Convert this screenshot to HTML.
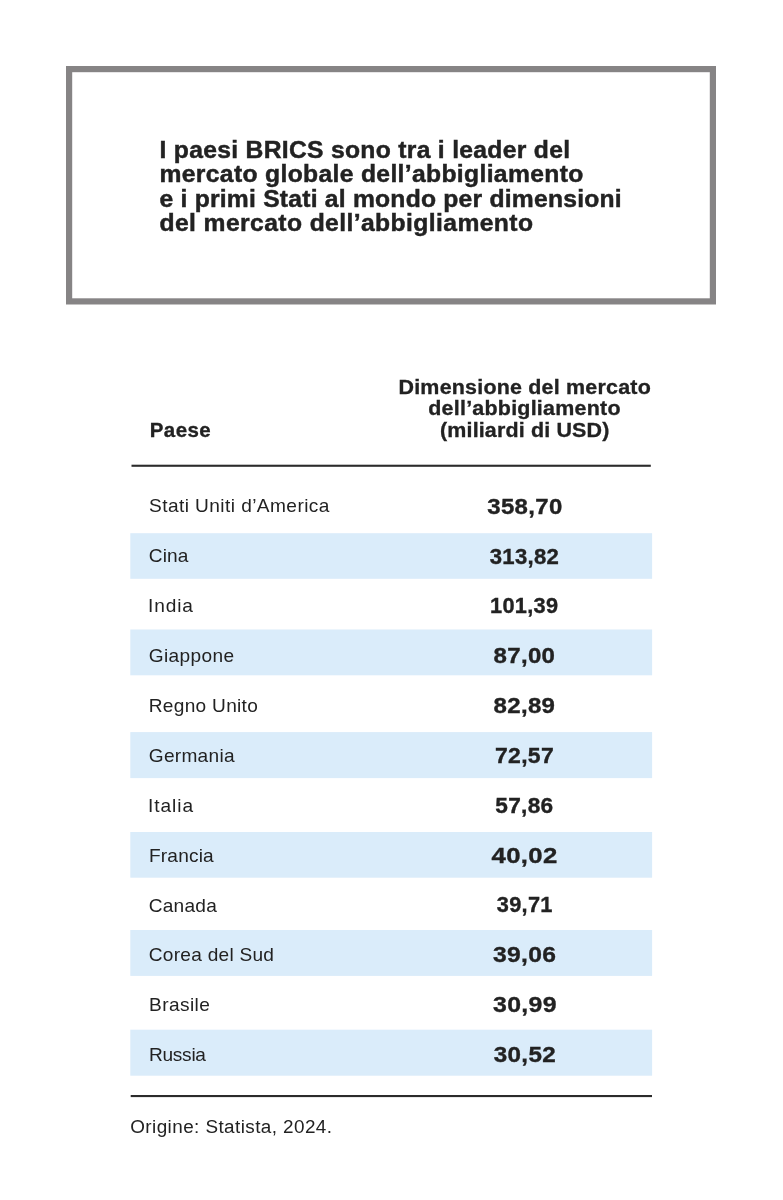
<!DOCTYPE html>
<html lang="it">
<head>
<meta charset="utf-8">
<title>Mercato dell’abbigliamento – paesi BRICS</title>
<style>
html,body{margin:0;padding:0;background:#fff}
body{width:783px;height:1200px;position:relative;overflow:hidden;font-family:"Liberation Sans",Arial,sans-serif;color:#222}
svg.bg{position:absolute;left:0;top:0;display:block}
.t{position:absolute;margin:0;padding:0;white-space:nowrap;line-height:1;font-weight:normal;color:#222;transform-origin:0 0}
.b{font-weight:bold}
.w{margin:0;padding:0;position:static;font:inherit}

</style>
</head>
<body>
<svg class="bg" width="783" height="1200" viewBox="0 0 783 1200" aria-hidden="true">
<rect x="69.1" y="69.1" width="643.8" height="232.3" fill="none" stroke="#868485" stroke-width="6.2"/>
<rect x="130.3" y="533.2" width="521.8" height="45.6" fill="#daecfa"/>
<rect x="130.3" y="629.5" width="521.8" height="45.8" fill="#daecfa"/>
<rect x="130.3" y="732.1" width="521.8" height="46.0" fill="#daecfa"/>
<rect x="130.3" y="832.0" width="521.8" height="45.7" fill="#daecfa"/>
<rect x="130.3" y="930.0" width="521.8" height="45.9" fill="#daecfa"/>
<rect x="130.3" y="1029.7" width="521.8" height="46.0" fill="#daecfa"/>
<rect x="131.5" y="464.7" width="519.3" height="2.1" fill="#2b2b2b"/>
<rect x="130.7" y="1095" width="521.3" height="2.1" fill="#2b2b2b"/>
</svg>
<h1 class="w">
<span id="t1" class="t b" style="left:159px;top:137px;font-size:23.5px;line-height:26px;letter-spacing:0.284px;transform:translateX(0.50px) scaleX(1.0500);-webkit-text-stroke:0.45px #222">I paesi BRICS sono tra i leader del</span>
<span id="t2" class="t b" style="left:159px;top:161px;font-size:23.5px;line-height:26px;letter-spacing:0.319px;transform:translateX(0.50px) scaleX(1.0500);-webkit-text-stroke:0.45px #222">mercato globale dell’abbigliamento</span>
<span id="t3" class="t b" style="left:159px;top:186px;font-size:23.5px;line-height:26px;letter-spacing:0.209px;transform:translateX(0.50px) scaleX(1.0500);-webkit-text-stroke:0.45px #222">e i primi Stati al mondo per dimensioni</span>
<span id="t4" class="t b" style="left:159px;top:210px;font-size:23.5px;line-height:26px;letter-spacing:0.378px;transform:translateX(0.50px) scaleX(1.0500);-webkit-text-stroke:0.45px #222">del mercato dell’abbigliamento</span>
</h1>
<div class="w" role="table" aria-label="Dimensione del mercato dell’abbigliamento per paese">
<div class="w" role="row">
<span id="hp" class="t b" role="columnheader" style="left:149px;top:418px;font-size:20.5px;line-height:23px;letter-spacing:0.425px;transform:translateX(0.75px);-webkit-text-stroke:0.3px #222">Paese</span>
<span class="w" role="columnheader">
<span id="h1" class="t b" style="left:398px;top:376px;font-size:19.5px;line-height:22px;letter-spacing:0.186px;transform:translateX(0.50px) scaleX(1.1000);-webkit-text-stroke:0.3px #222">Dimensione del mercato</span>
<span id="h2" class="t b" style="left:428px;top:397px;font-size:19.5px;line-height:22px;letter-spacing:0.211px;transform:translateX(0.25px) scaleX(1.1000);-webkit-text-stroke:0.3px #222">dell’abbigliamento</span>
<span id="h3" class="t b" style="left:440px;top:419px;font-size:19.5px;line-height:22px;letter-spacing:0.142px;transform:translateX(0.00px) scaleX(1.1000);-webkit-text-stroke:0.3px #222">(miliardi di USD)</span>
</span>
</div>
<div class="w" role="row"><span id="c0" class="t" role="cell" style="left:149px;top:496px;font-size:18.2px;line-height:20px;letter-spacing:0.405px;transform:translateX(0.00px) scaleX(1.0500)">Stati Uniti d’America</span><span id="v0" class="t b" role="cell" style="left:487px;top:494px;font-size:22px;line-height:25px;letter-spacing:0.300px;transform:translateX(0.25px) scaleX(1.0898);-webkit-text-stroke:0.35px #222">358,70</span></div>
<div class="w" role="row"><span id="c1" class="t" role="cell" style="left:148px;top:546px;font-size:18.2px;line-height:20px;letter-spacing:0.111px;transform:translateX(0.75px) scaleX(1.0500)">Cina</span><span id="v1" class="t b" role="cell" style="left:489px;top:544px;font-size:22px;line-height:25px;letter-spacing:0.300px;transform:translateX(0.75px) scaleX(1.0051);-webkit-text-stroke:0.35px #222">313,82</span></div>
<div class="w" role="row"><span id="c2" class="t" role="cell" style="left:148px;top:596px;font-size:18.2px;line-height:20px;letter-spacing:0.845px;transform:translateX(0.00px) scaleX(1.0500)">India</span><span id="v2" class="t b" role="cell" style="left:490px;top:593px;font-size:22px;line-height:25px;letter-spacing:0.300px;transform:translateX(0.00px) scaleX(0.9897);-webkit-text-stroke:0.35px #222">101,39</span></div>
<div class="w" role="row"><span id="c3" class="t" role="cell" style="left:148px;top:646px;font-size:18.2px;line-height:20px;letter-spacing:0.340px;transform:translateX(0.75px) scaleX(1.0500)">Giappone</span><span id="v3" class="t b" role="cell" style="left:493px;top:643px;font-size:22px;line-height:25px;letter-spacing:0.300px;transform:translateX(0.50px) scaleX(1.0928);-webkit-text-stroke:0.35px #222">87,00</span></div>
<div class="w" role="row"><span id="c4" class="t" role="cell" style="left:148px;top:696px;font-size:18.2px;line-height:20px;letter-spacing:0.276px;transform:translateX(0.75px) scaleX(1.0500)">Regno Unito</span><span id="v4" class="t b" role="cell" style="left:493px;top:693px;font-size:22px;line-height:25px;letter-spacing:0.300px;transform:translateX(0.50px) scaleX(1.0928);-webkit-text-stroke:0.35px #222">82,89</span></div>
<div class="w" role="row"><span id="c5" class="t" role="cell" style="left:148px;top:746px;font-size:18.2px;line-height:20px;letter-spacing:0.265px;transform:translateX(0.75px) scaleX(1.0500)">Germania</span><span id="v5" class="t b" role="cell" style="left:495px;top:743px;font-size:22px;line-height:25px;letter-spacing:0.300px;transform:translateX(0.00px) scaleX(1.0432);-webkit-text-stroke:0.35px #222">72,57</span></div>
<div class="w" role="row"><span id="c6" class="t" role="cell" style="left:148px;top:796px;font-size:18.2px;line-height:20px;letter-spacing:0.895px;transform:translateX(0.00px) scaleX(1.0500)">Italia</span><span id="v6" class="t b" role="cell" style="left:495px;top:793px;font-size:22px;line-height:25px;letter-spacing:0.300px;transform:translateX(0.25px) scaleX(1.0299);-webkit-text-stroke:0.35px #222">57,86</span></div>
<div class="w" role="row"><span id="c7" class="t" role="cell" style="left:148px;top:846px;font-size:18.2px;line-height:20px;letter-spacing:0.159px;transform:translateX(1.00px) scaleX(1.0500)">Francia</span><span id="v7" class="t b" role="cell" style="left:491px;top:843px;font-size:22px;line-height:25px;letter-spacing:0.300px;transform:translateX(0.50px) scaleX(1.1677);-webkit-text-stroke:0.35px #222">40,02</span></div>
<div class="w" role="row"><span id="c8" class="t" role="cell" style="left:148px;top:896px;font-size:18.2px;line-height:20px;letter-spacing:0.210px;transform:translateX(0.75px) scaleX(1.0500)">Canada</span><span id="v8" class="t b" role="cell" style="left:496px;top:892px;font-size:22px;line-height:25px;letter-spacing:0.300px;transform:translateX(0.75px) scaleX(0.9896);-webkit-text-stroke:0.35px #222">39,71</span></div>
<div class="w" role="row"><span id="c9" class="t" role="cell" style="left:148px;top:945px;font-size:18.2px;line-height:20px;letter-spacing:0.250px;transform:translateX(0.75px) scaleX(1.0500)">Corea del Sud</span><span id="v9" class="t b" role="cell" style="left:493px;top:942px;font-size:22px;line-height:25px;letter-spacing:0.300px;transform:translateX(0.00px) scaleX(1.1200);-webkit-text-stroke:0.35px #222">39,06</span></div>
<div class="w" role="row"><span id="c10" class="t" role="cell" style="left:149px;top:995px;font-size:18.2px;line-height:20px;letter-spacing:0.397px;transform:translateX(0.00px) scaleX(1.0500)">Brasile</span><span id="v10" class="t b" role="cell" style="left:493px;top:992px;font-size:22px;line-height:25px;letter-spacing:0.300px;transform:translateX(0.00px) scaleX(1.1291);-webkit-text-stroke:0.35px #222">30,99</span></div>
<div class="w" role="row"><span id="c11" class="t" role="cell" style="left:149px;top:1045px;font-size:18.2px;line-height:20px;letter-spacing:-0.267px;transform:translateX(0.00px) scaleX(1.0500)">Russia</span><span id="v11" class="t b" role="cell" style="left:493px;top:1042px;font-size:22px;line-height:25px;letter-spacing:0.300px;transform:translateX(0.75px) scaleX(1.1010);-webkit-text-stroke:0.35px #222">30,52</span></div>
</div>
<p id="ft" class="t" style="left:130px;top:1117px;font-size:18px;line-height:20px;letter-spacing:0.393px;transform:translateX(0.25px) scaleX(1.0500)">Origine: Statista, 2024.</p>
</body>
</html>
